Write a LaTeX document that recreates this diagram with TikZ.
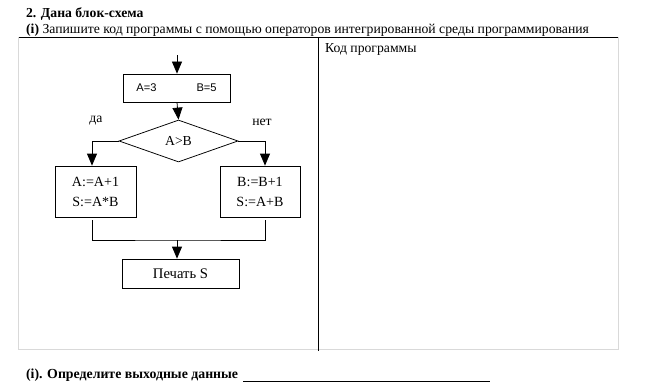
\documentclass[tikz,border=0pt]{standalone}
\usepackage{fontspec}
\setmainfont{Liberation Serif}
\newfontfamily\arialfont{Liberation Sans}
\usetikzlibrary{shapes.geometric, arrows.meta, positioning, calc}
\tikzset{
    procbox/.style={rectangle, draw=black, line width=0.65pt, align=center, inner sep=2pt},
    decisionbox/.style={diamond, draw=black, line width=0.65pt, aspect=2.85, inner sep=0pt},
    arrow/.style={-{Triangle[length=3.6mm, width=3mm]}, line width=0.65pt},
    flowline/.style={line width=0.7pt},
    tableline/.style={black!15, line width=0.6pt},
}

\begin{document}
\begin{tikzpicture}[x=0.03cm, y=-0.03cm, font=\fontsize{11.7}{14}\selectfont]
\useasboundingbox (0,0) rectangle (660,391);

% Header
\node[anchor=west, font=\fontsize{11.7}{14}\selectfont\bfseries] (title) at (22,14) {2. Дана блок-схема};
\node[anchor=west] (task) at (22,30) {\textbf{(i)} Запишите код программы с помощью операторов интегрированной среды программирования};

% Table frame
\coordinate (tl) at (18,37);
\coordinate (tr) at (618,37);
\coordinate (bl) at (18,349);
\coordinate (br) at (618,349);
\coordinate (mt) at (318,37);
\coordinate (mb) at (318,351);
\draw[line width=0.7pt] (tl) -- (tr);
\draw[tableline] (tl) -- (bl) -- (br) -- (tr);
\draw[line width=0.7pt] (mt) -- (mb);
\node[anchor=north west] (codelabel) at (321,39) {Код программы};

% Flowchart nodes
\node[procbox, minimum width=107*0.03cm, minimum height=28*0.03cm, font=\arialfont\fontsize{9.5}{11}\selectfont] (init) at (176.5,88) {A=3\hspace{3.6em}B=5};
\node[decisionbox, minimum width=119*0.03cm, minimum height=42*0.03cm] (cond) at (178.5,141) {A>B};
\node[procbox, minimum width=81*0.03cm, minimum height=51*0.03cm, font=\fontsize{12}{17}\selectfont] (yesbox) at (95.5,191.5) {A:=A+1\\S:=A*B};
\node[procbox, minimum width=80*0.03cm, minimum height=51*0.03cm, font=\fontsize{12}{17}\selectfont] (nobox) at (260,191.5) {B:=B+1\\S:=A+B};
\node[procbox, minimum width=117*0.03cm, minimum height=29*0.03cm, font=\fontsize{12.5}{15}\selectfont] (print) at (180.5,273.5) {Печать S};

% Branch labels
\node (yeslabel) at (96,121) {да};
\node (nolabel) at (262,122) {нет};

% Helper points
\coordinate (start) at (177,55);
\coordinate (yesend) at (92,220);
\coordinate (noend) at (265,220);
\coordinate (join) at (177,240);

% Connectors
\draw[arrow] (start) -- (init.north -| start);
\draw[arrow] (init.south -| start) -- (cond.north);
\draw[arrow] (cond.west) -| (yesbox.north -| yesend);
\draw[arrow] (cond.east) -| (nobox.north -| noend);
\draw[flowline] (yesend) |- (join) -| (noend);
\draw[arrow] (join) -- (print.north -| join);

% Footer
\node[anchor=west, font=\fontsize{11.8}{14}\selectfont\bfseries] (answer) at (22,375) {(i). Определите выходные данные};
\coordinate (ulstart) at (243,381);
\coordinate (ulend) at (490,381);
\draw[line width=0.8pt] (ulstart) -- (ulend);
\end{tikzpicture}
\end{document}
